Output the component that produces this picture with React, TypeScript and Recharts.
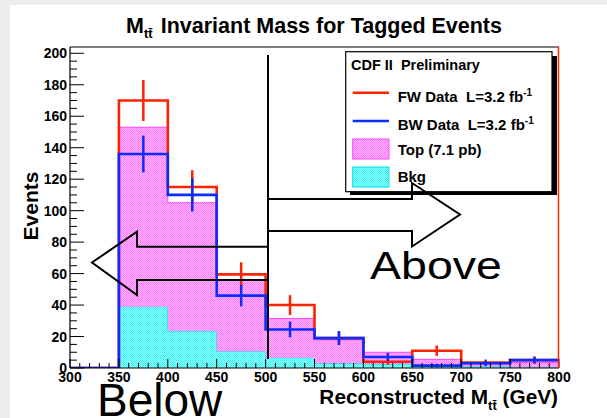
import React from 'react';
import { ComposedChart, Area, Line, Scatter, ErrorBar, XAxis, YAxis } from 'recharts';

// histogram bin edges in GeV; the final edge closes the last bin
const binEdges = [300, 350, 400, 450, 500, 550, 600, 650, 700, 750, 800];

// per-bin contents, one entry per bin (300-350 ... 750-800)
const fwData = [0, 170, 115, 59.5, 40, 19, 4, 11, 3.5, 5];
const fwErr = [0, 13, 10.7, 7.7, 6.3, 4.4, 2, 3.3, 1.9, 2.2];
const bwData = [0, 136, 110, 46, 24.5, 19, 7, 1.5, 3, 5];
const bwErr = [0, 11.7, 10.5, 6.8, 5, 4.4, 2.6, 1.2, 1.7, 2.2];
const bkgExp = [0, 39, 23.5, 10.5, 6.5, 3, 2.5, 1, 1, 0.5];
const topExp = [0, 114, 81.5, 45.5, 25, 15, 7.5, 4.5, 1.5, 3];

const xTicks = [300, 310, 320, 330, 340, 350, 360, 370, 380, 390, 400, 410, 420, 430, 440, 450, 460, 470, 480, 490,
  500, 510, 520, 530, 540, 550, 560, 570, 580, 590, 600, 610, 620, 630, 640, 650, 660, 670, 680, 690, 700, 710, 720,
  730, 740, 750, 760, 770, 780, 790, 800];
const yTicks = [0, 5, 10, 15, 20, 25, 30, 35, 40, 45, 50, 55, 60, 65, 70, 75, 80, 85, 90, 95, 100, 105, 110, 115, 120,
  125, 130, 135, 140, 145, 150, 155, 160, 165, 170, 175, 180, 185, 190, 195, 200];

const FONT = '"Liberation Sans", Arial, Helvetica, sans-serif';
const RED = '#ff2200';
const BLUE = '#0a2cff';

// step rows: each edge carries the content of the bin that starts there
const histRows = binEdges.map((x, i) => {
  const k = Math.min(i, fwData.length - 1);
  return { x, fw: fwData[k], bw: bwData[k], bkg: bkgExp[k], top: topExp[k] };
});

const errPoints = (vals: number[], errs: number[]) =>
  binEdges
    .slice(0, -1)
    .map((lo, i) => ({ x: lo + 25, y: vals[i], err: errs[i] }))
    .filter((p) => p.y > 0);

const fwPoints = errPoints(fwData, fwErr);
const bwPoints = errPoints(bwData, bwErr);

const XTick = (props: any) => {
  const { x, y, payload } = props;
  const v = payload.value;
  const major = v % 50 === 0;
  return (
    <g>
      <line x1={x} x2={x} y1={y} y2={y - (major ? 9 : 5)} stroke="#000" strokeWidth={1} />
      {major && (
        <text x={x} y={y + 14} textAnchor="middle" fontFamily={FONT} fontWeight="bold" fontSize={14} fill="#000">
          {v}
        </text>
      )}
    </g>
  );
};

const YTick = (props: any) => {
  const { x, y, payload } = props;
  const v = payload.value;
  const major = v % 20 === 0;
  return (
    <g>
      <line x1={x} x2={x + (major ? 14 : 7)} y1={y} y2={y} stroke="#000" strokeWidth={1} />
      {major && (
        <text x={x - 3} y={y + 5} textAnchor="end" fontFamily={FONT} fontWeight="bold" fontSize={14} fill="#000">
          {v}
        </text>
      )}
    </g>
  );
};

const noMarker = () => <g />;

function Annotations() {
  const txt = { fontFamily: FONT, fontWeight: 'bold' as const, fill: '#000', whiteSpace: 'pre' as const };
  return (
    <svg
      width={607}
      height={418}
      style={{ position: 'absolute', left: 0, top: 0, pointerEvents: 'none' }}
    >
      {/* frame top and right edge */}
      <line x1={70} x2={559} y1={47} y2={47} stroke="#000" strokeWidth={1.2} />
      <line x1={558.5} x2={558.5} y1={47} y2={368} stroke={RED} strokeWidth={1.5} />

      {/* title */}
      <text x={126} y={33} fontSize={21.5} style={txt}>
        M
        <tspan fontSize={13} dy={5}>tt̄</tspan>
        <tspan x={160.7} dy={-5}>Invariant Mass for Tagged Events</tspan>
      </text>

      {/* axis titles */}
      <text
        x={0}
        y={0}
        fontSize={21}
        textAnchor="middle"
        transform="translate(37.5,206) rotate(-90)"
        style={txt}
      >
        Events
      </text>
      <text x={558} y={404} fontSize={20.8} textAnchor="end" style={txt}>
        Reconstructed M
        <tspan fontSize={13} dy={6}>tt̄</tspan>
        <tspan dy={-6}> (GeV)</tspan>
      </text>

      {/* legend */}
      <rect x={350} y={56} width={207} height={139} fill="#000" />
      <rect x={345.7} y={51.7} width={206.3} height={140} fill="#fff" stroke="#000" strokeWidth={1.2} />
      <text x={351} y={69.5} fontSize={14.5} style={txt}>CDF II  Preliminary</text>
      <line x1={352.7} x2={389} y1={92.7} y2={92.7} stroke={RED} strokeWidth={2.5} />
      <text x={397.7} y={101.7} fontSize={15} style={txt}>
        FW Data  L=3.2 fb<tspan fontSize={10} dy={-6}>-1</tspan>
      </text>
      <line x1={352.7} x2={389} y1={121} y2={121} stroke={BLUE} strokeWidth={2.5} />
      <text x={397.7} y={130} fontSize={15} style={txt}>
        BW Data  L=3.2 fb<tspan fontSize={10} dy={-6}>-1</tspan>
      </text>
      <rect x={352.7} y={139} width={36.3} height={20} fill="url(#topHatchL)" stroke="#ff44ff" strokeWidth={1} />
      <text x={397.7} y={155} fontSize={15} style={txt}>Top (7.1 pb)</text>
      <rect x={352.7} y={167} width={36.3} height={20} fill="url(#bkgHatchL)" stroke="#00e0e0" strokeWidth={1} />
      <text x={397.7} y={182} fontSize={15} style={txt}>Bkg</text>

      <defs>
        <pattern id="topHatchL" width={2} height={2} patternUnits="userSpaceOnUse">
          <rect width={2} height={2} fill="#ffb4ff" />
          <rect width={1} height={1} fill="#ff7cff" />
          <rect x={1} y={1} width={1} height={1} fill="#ff7cff" />
        </pattern>
        <pattern id="bkgHatchL" width={2} height={2} patternUnits="userSpaceOnUse">
          <rect width={2} height={2} fill="#a0ffff" />
          <rect width={1} height={1} fill="#30f4f4" />
          <rect x={1} y={1} width={1} height={1} fill="#30f4f4" />
        </pattern>
      </defs>

      {/* cut line and region arrows */}
      <line x1={268} x2={268} y1={55} y2={359} stroke="#000" strokeWidth={2} />
      <polyline
        points="268,246.7 137,246.7 137,231.7 92,262.5 137,295 137,280 268,280"
        fill="none"
        stroke="#000"
        strokeWidth={2}
      />
      <polyline
        points="268,199 412,199 412,183 460,214.5 412,246.5 412,231 268,231"
        fill="none"
        stroke="#000"
        strokeWidth={2}
      />
      <text x={370} y={278.5} fontFamily={FONT} fontSize={38} fill="#000" textLength={132} lengthAdjust="spacingAndGlyphs">
        Above
      </text>
      <text x={97} y={416} fontFamily={FONT} fontSize={46} fill="#000">
        Below
      </text>
    </svg>
  );
}

export default function App() {
  return (
    <div style={{ position: 'absolute', left: 0, top: 0, width: 607, height: 418, background: '#ececec', overflow: 'hidden' }}>
      <div style={{ position: 'absolute', left: 10, top: 5, width: 597, height: 413, background: '#fff' }} />
      <div style={{ position: 'absolute', left: 0, top: 0 }}>
        <ComposedChart
          width={607}
          height={418}
          data={histRows}
          margin={{ top: 47, right: 48, left: 10, bottom: 20 }}
        >
          <defs>
            <pattern id="topHatch" width={2} height={2} patternUnits="userSpaceOnUse">
              <rect width={2} height={2} fill="#ffb4ff" />
              <rect width={1} height={1} fill="#ff7cff" />
              <rect x={1} y={1} width={1} height={1} fill="#ff7cff" />
            </pattern>
            <pattern id="bkgHatch" width={2} height={2} patternUnits="userSpaceOnUse">
              <rect width={2} height={2} fill="#a0ffff" />
              <rect width={1} height={1} fill="#30f4f4" />
              <rect x={1} y={1} width={1} height={1} fill="#30f4f4" />
            </pattern>
          </defs>
          <XAxis
            type="number"
            dataKey="x"
            domain={[300, 800]}
            ticks={xTicks}
            interval={0}
            allowDataOverflow
            height={30}
            tickSize={0}
            tickMargin={0}
            tickLine={false}
            axisLine={{ stroke: '#000', strokeWidth: 1.2 }}
            tick={(p: any) => <XTick {...p} />}
          />
          <YAxis
            type="number"
            domain={[0, 204]}
            ticks={yTicks}
            interval={0}
            allowDataOverflow
            width={60}
            tickSize={0}
            tickMargin={0}
            tickLine={false}
            axisLine={{ stroke: '#000', strokeWidth: 1.2 }}
            tick={(p: any) => <YTick {...p} />}
          />
          <Area
            type="stepAfter"
            dataKey="bkg"
            stackId="mc"
            stroke="#00e0e0"
            strokeWidth={1}
            fill="url(#bkgHatch)"
            fillOpacity={1}
            isAnimationActive={false}
          />
          <Area
            type="stepAfter"
            dataKey="top"
            stackId="mc"
            stroke="#ff44ff"
            strokeWidth={1}
            fill="url(#topHatch)"
            fillOpacity={1}
            isAnimationActive={false}
          />
          <Line
            type="stepAfter"
            dataKey="fw"
            stroke={RED}
            strokeWidth={2.6}
            dot={false}
            activeDot={false}
            isAnimationActive={false}
          />
          <Scatter data={fwPoints} dataKey="y" shape={noMarker} isAnimationActive={false}>
            <ErrorBar dataKey="err" direction="y" width={0} stroke={RED} strokeWidth={2.5} />
          </Scatter>
          <Line
            type="stepAfter"
            dataKey="bw"
            stroke={BLUE}
            strokeWidth={2.6}
            dot={false}
            activeDot={false}
            isAnimationActive={false}
          />
          <Scatter data={bwPoints} dataKey="y" shape={noMarker} isAnimationActive={false}>
            <ErrorBar dataKey="err" direction="y" width={0} stroke={BLUE} strokeWidth={2.5} />
          </Scatter>
        </ComposedChart>
      </div>
      <Annotations />
    </div>
  );
}
